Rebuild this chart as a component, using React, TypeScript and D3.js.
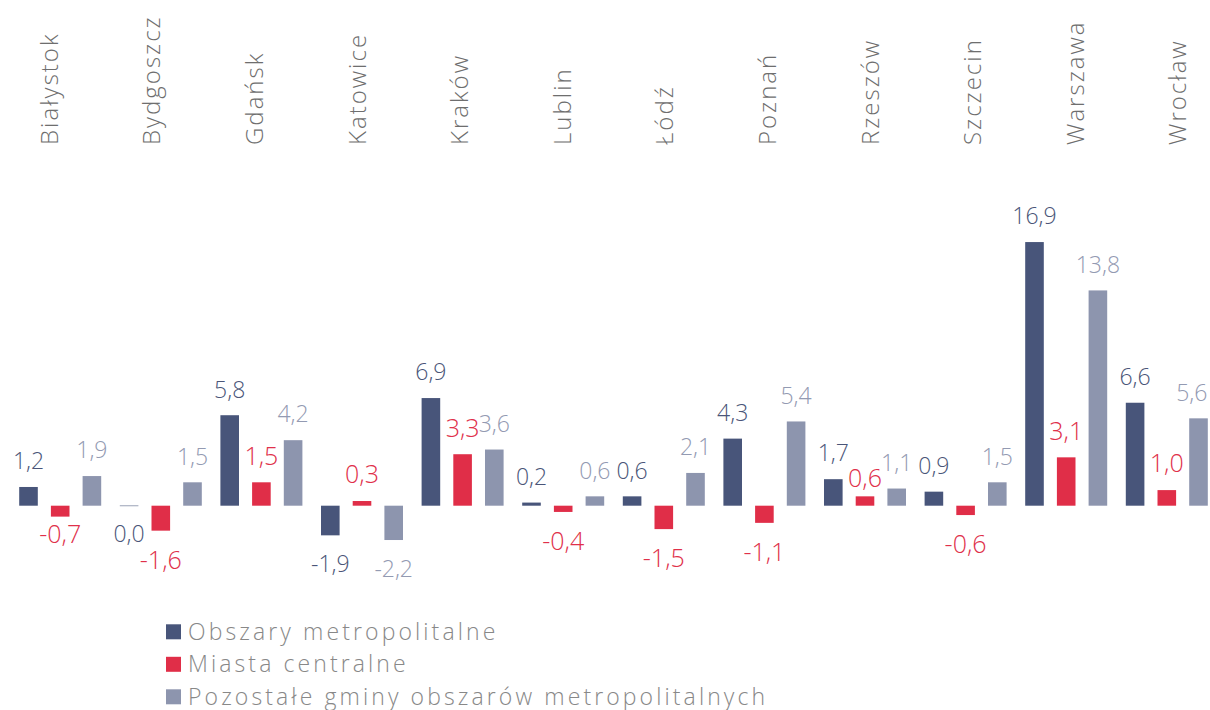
import React from "react";
import * as d3 from "d3";

const categories = ["Białystok", "Bydgoszcz", "Gdańsk", "Katowice", "Kraków", "Lublin", "Łódź", "Poznań", "Rzeszów", "Szczecin", "Warszawa", "Wrocław"];
const seriesNames = ["Obszary metropolitalne", "Miasta centralne", "Pozostałe gminy obszarów metropolitalnych"];
const obszary = [1.2, 0.0, 5.8, -1.9, 6.9, 0.2, 0.6, 4.3, 1.7, 0.9, 16.9, 6.6];
const miasta = [-0.7, -1.6, 1.5, 0.3, 3.3, -0.4, -1.5, -1.1, 0.6, -0.6, 3.1, 1.0];
const pozostale = [1.9, 1.5, 4.2, -2.2, 3.6, 0.6, 2.1, 5.4, 1.1, 1.5, 13.8, 5.6];

const seriesValues = [obszary, miasta, pozostale];
const barColors = ["#48557a", "#e02e48", "#8d95ae"];
const labelColors = ["#4a5578", "#e0304a", "#939ab2"];
const labelSizes = [23, 25, 23];
// manual label nudges (px, vertical) for overlapping labels: key "catIndex-seriesIndex"
const labelNudge: Record<string, number> = { "0-1": -12, "8-1": 8.5 };

const FONT = "'Open Sans', 'DejaVu Sans', sans-serif";

const locale = d3.formatLocale({ decimal: ",", thousands: " ", grouping: [3], currency: ["", " zł"], minus: "-" });
const fmt = locale.format(".1f");

export default function App() {
  const W = 1210, H = 710;
  const x0 = d3.scaleBand<string>().domain(categories).range([9.9, 1217.1]).paddingInner(0).paddingOuter(0);
  const xs = d3.scalePoint<number>().domain([0, 1, 2]).range([-31.7, 31.7]);
  const barW = 18.6;
  const y = d3.scaleLinear().domain([-3, 18]).range([505.7 + 3 * 15.6, 505.7 - 18 * 15.6]);
  const xl = d3.scalePoint<string>().domain(categories).range([57.7, 1186.3]);

  return (
    <svg width={W} height={H} style={{ position: "absolute", left: 0, top: 0, background: "#fff" }} fontFamily={FONT}>
      {categories.map((c) => (
        <text key={c} transform={`translate(${xl(c)},145) rotate(-90)`} fontSize={24} fontWeight={300} fill="#6e6e6e" letterSpacing={2} textAnchor="start">
          {c}
        </text>
      ))}
      {categories.map((c, ci) => {
        const gc = (x0(c) as number) + x0.bandwidth() / 2;
        return (
          <g key={c}>
            {seriesValues.map((vals, si) => {
              const v = vals[ci];
              const cx = gc + (xs(si) as number);
              const top = Math.min(y(v), y(0));
              const h = Math.abs(y(v) - y(0));
              return (
                <rect key={si} x={cx - barW / 2} y={v === 0 ? y(0) - 0.6 : top} width={barW} height={v === 0 ? 1.2 : h} fill={barColors[si]} opacity={v === 0 ? 0.45 : 1} />
              );
            })}
            {seriesValues.map((vals, si) => {
              const v = vals[ci];
              const label = fmt(v);
              const halfW = (label.length * labelSizes[si] * 0.47) / 2;
              const cx = Math.min(gc + (xs(si) as number), W - 2 - halfW);
              const nudge = labelNudge[`${ci}-${si}`] || 0;
              const by = v > 0 ? y(v) - 17.7 : y(Math.min(v, 0)) + 20 + labelSizes[si] * 0.72;
              return (
                <text key={"l" + si} x={cx} y={by + nudge} textAnchor="middle" fontSize={labelSizes[si]} fontWeight={300} fill={labelColors[si]}>
                  {label}
                </text>
              );
            })}
          </g>
        );
      })}
      {seriesNames.map((s, i) => (
        <g key={s} transform={`translate(166,${624.3 + i * 32.5})`}>
          <rect x={0} y={0} width={15} height={15} fill={barColors[i]} />
          <text x={22} y={15.5} fontSize={23} fontWeight={300} fill="#888888" letterSpacing={3.1}>
            {s}
          </text>
        </g>
      ))}
    </svg>
  );
}
